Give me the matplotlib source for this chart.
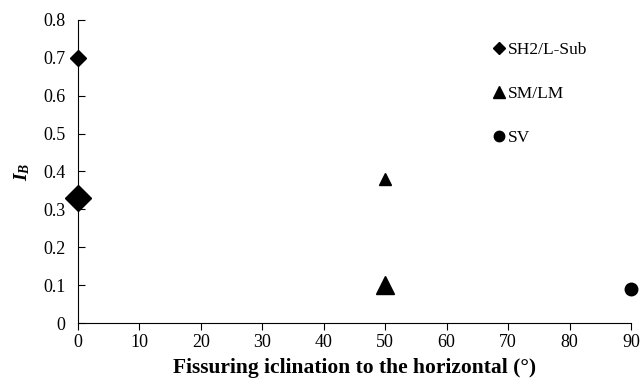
import matplotlib
matplotlib.use("Agg")
import matplotlib.pyplot as plt
from matplotlib.lines import Line2D

plt.rcParams['font.family'] = ['Liberation Serif', 'DejaVu Serif']
plt.rcParams['mathtext.fontset'] = 'custom'
plt.rcParams['mathtext.rm'] = 'Liberation Serif'
plt.rcParams['mathtext.it'] = 'Liberation Serif:italic'
plt.rcParams['mathtext.bf'] = 'Liberation Serif:bold'
plt.rcParams['mathtext.bfit'] = 'Liberation Serif:italic:bold'

# data
sh2_x = [0, 0]
sh2_y = [0.70, 0.33]
sh2_size = [8, 13]
sm_x = [50, 50]
sm_y = [0.38, 0.10]
sm_size = [9, 12.5]
sv_x = [90]
sv_y = [0.09]
sv_size = [9]

fig = plt.figure(figsize=(6.41, 3.85), dpi=100)
ax = fig.add_axes([78 / 641, 1 - 323 / 385, (631 - 78) / 641, (323 - 20) / 385])

for x, y, s in zip(sh2_x, sh2_y, sh2_size):
    ax.plot(x, y, 'D', color='black', markersize=s, clip_on=False, zorder=5)
for x, y, s in zip(sm_x, sm_y, sm_size):
    ax.plot(x, y, '^', color='black', markersize=s, clip_on=False, zorder=5)
for x, y, s in zip(sv_x, sv_y, sv_size):
    ax.plot(x, y, 'o', color='black', markersize=s, clip_on=False, zorder=5)

ax.set_xlim(0, 90)
ax.set_ylim(0, 0.8)
ax.set_xticks(range(0, 91, 10))
ax.set_yticks([0, 0.1, 0.2, 0.3, 0.4, 0.5, 0.6, 0.7, 0.8])
ax.set_yticklabels(['0', '0.1', '0.2', '0.3', '0.4', '0.5', '0.6', '0.7', '0.8'])
ax.tick_params(axis='y', direction='in', length=5, labelsize=13, pad=9)
ax.tick_params(axis='x', direction='out', length=5, labelsize=13, pad=3)
ax.spines['top'].set_visible(False)
ax.spines['right'].set_visible(False)
ax.set_xlabel('Fissuring iclination to the horizontal (°)', fontsize=15.5, fontweight='bold', labelpad=5)
ax.set_ylabel(r'$\mathbfit{I_B}$', fontsize=14, labelpad=8)

handles = [
    Line2D([], [], marker='D', color='black', linestyle='none', markersize=6.5),
    Line2D([], [], marker='^', color='black', linestyle='none', markersize=9),
    Line2D([], [], marker='o', color='black', linestyle='none', markersize=7.5),
]
ax.legend(handles, ['SH2/L-Sub', 'SM/LM', 'SV'], loc='upper left',
          bbox_to_anchor=(0.72, 0.98), frameon=False, fontsize=12.5,
          handlelength=0.8, handletextpad=0.15, labelspacing=1.62)

fig.savefig('out.png', dpi=100)
